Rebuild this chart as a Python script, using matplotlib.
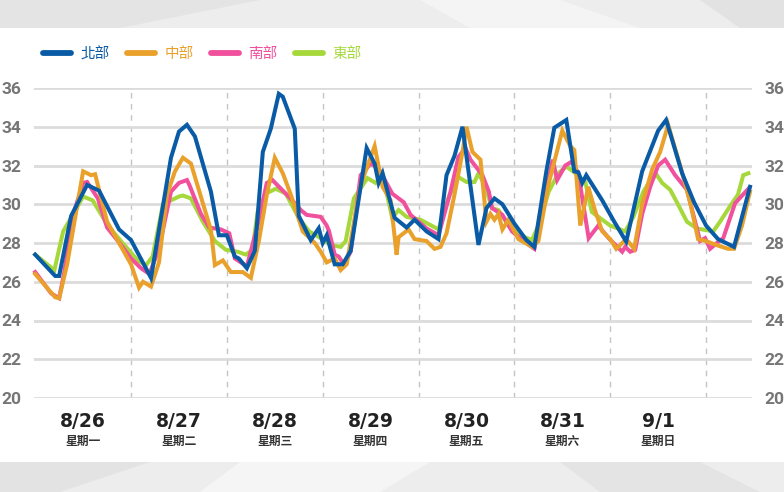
import matplotlib
matplotlib.use("Agg")
import matplotlib.pyplot as plt
from matplotlib.patches import Rectangle, Polygon

# ---------------- data (hours since 8/26 00:00, temperature °C) ----------------
north_h = [0, 5, 6, 9, 13, 16, 21, 24, 29, 34, 36, 38, 40, 44, 46, 48, 50, 51, 53, 55,
           57, 59, 61, 62, 65, 66, 69, 71, 72, 73, 75, 77, 79, 83, 85, 86, 87, 90, 93, 95,
           98, 101, 103, 105, 107, 111, 113, 115, 117, 120, 123, 125, 128, 130, 133, 135,
           136, 137, 138, 142, 145, 148, 152, 156, 158, 162, 165, 168, 171, 175, 179]
north_v = [27.4, 26.3, 26.3, 29.4, 31.0, 30.7, 28.7, 28.15, 26.2, 32.4, 33.75, 34.1, 33.5,
           30.65, 28.4, 28.4, 27.3, 27.2, 26.7, 27.6, 32.7, 33.9, 35.7, 35.55, 33.9, 29.4,
           28.15, 28.76, 28.0, 28.4, 26.9, 26.9, 27.6, 32.9, 32.1, 31.1, 31.6, 29.3, 28.8,
           29.2, 28.6, 28.2, 31.5, 32.5, 34.0, 27.9, 29.8, 30.3, 30.0, 29.0, 28.15, 27.8,
           31.7, 33.95, 34.35, 31.7, 31.65, 31.1, 31.5, 30.2, 29.1, 28.07, 31.7, 33.8,
           34.35, 31.6, 30.1, 28.9, 28.2, 27.8, 30.9]

central_h = [0, 5, 6, 8, 12, 14, 15, 18, 24, 26, 27, 29, 31, 33, 35, 37, 39, 44, 45, 47,
             49, 52, 54, 56, 58, 60, 62, 64, 67, 70, 71.5, 73, 75, 76.5, 78, 79, 81.5, 85,
             87, 89, 90.5, 91, 93.5, 95, 98, 100, 101.5, 103, 105, 107, 108, 109.5, 111.5,
             113, 114, 115, 116, 117, 118.5, 121, 124.5, 126, 128.5, 132, 134, 135, 136.5,
             138.5, 140, 142, 144, 145.5, 148, 150, 152, 154.5, 156.5, 158.5, 161.5, 164,
             166, 168, 170.5, 173.5, 175, 177, 179]
central_v = [26.4, 25.2, 25.15, 26.9, 31.7, 31.5, 31.55, 29.1, 26.9, 25.7, 26.0, 25.75,
             27.0, 30.5, 31.7, 32.4, 32.1, 28.67, 26.86, 27.1, 26.5, 26.5, 26.2, 28.1, 30.5,
             32.4, 31.6, 30.5, 28.6, 28.0, 27.55, 27.0, 27.2, 26.6, 26.9, 28.1, 31.0, 33.0,
             30.9, 30.2, 27.4, 28.3, 28.7, 28.2, 28.1, 27.7, 27.8, 28.5, 30.5, 32.7, 34.0,
             32.7, 32.3, 29.1, 29.5, 29.2, 29.5, 28.7, 29.2, 28.2, 27.8, 28.1, 31.0, 33.8,
             33.0, 32.8, 28.9, 30.9, 29.8, 28.6, 28.2, 27.7, 28.2, 27.7, 30.0, 31.8, 32.7,
             34.1, 32.0, 30.1, 28.2, 28.1, 27.9, 27.7, 27.7, 28.9, 30.65]

south_h = [0, 4, 6, 7.3, 9.4, 12, 13, 15.7, 18, 21.5, 24, 26.5, 28.6, 31, 34, 36, 38, 38.6,
           41.5, 43.6, 46.5, 48.6, 50, 53, 55.7, 58, 59.4, 64.4, 66.5, 68, 71.5, 73, 73.6,
           75, 76, 77.3, 79, 81.5, 84, 86, 89.4, 92.3, 94, 98, 101, 104, 106, 107.75, 109,
           112, 113.6, 114.4, 117, 119.4, 122.3, 125, 127.75, 129.6, 130.7, 132.75, 134.4,
           136, 138.6, 141, 143.6, 147, 147.75, 149, 150.25, 152, 154, 156, 157.75, 160.25,
           163.2, 166.5, 167.75, 169, 170.7, 172.3, 175.25, 178.6]
south_v = [26.5, 25.4, 25.15, 26.5, 29.4, 31.1, 31.15, 30.3, 28.8, 27.9, 27.2, 26.7, 26.4,
           27.7, 30.65, 31.1, 31.25, 31.0, 29.5, 28.8, 28.7, 28.5, 27.2, 26.8, 28.9, 31.1,
           31.25, 30.2, 29.7, 29.45, 29.35, 28.9, 28.6, 27.4, 27.3, 26.9, 27.55, 31.5, 32.1,
           31.85, 30.55, 30.1, 29.45, 28.75, 28.4, 30.65, 32.45, 32.9, 32.3, 31.5, 30.65,
           29.8, 29.45, 28.6, 28.1, 27.7, 30.5, 32.3, 31.25, 32.0, 32.2, 31.6, 28.25, 28.9,
           28.25, 27.55, 27.8, 27.55, 27.65, 29.5, 30.9, 32.0, 32.3, 31.5, 30.75, 28.1,
           28.25, 27.7, 28.0, 28.25, 30.05, 30.8]

east_h = [0, 4.8, 7, 9, 12, 14.4, 18.2, 22.3, 25.7, 27.75, 29.4, 32, 34, 36, 37, 39, 42,
          45, 47.75, 50.7, 52.75, 54.4, 55.7, 57.75, 60.25, 62.75, 66, 68.6, 71.5, 74,
          76.5, 77.75, 79.8, 83.2, 85.25, 87, 89.4, 91, 93, 96.5, 101, 103.6, 106, 108,
          110, 111, 112.75, 114.4, 116, 118.5, 122, 124.4, 126, 128.6, 131, 133, 135,
          137.75, 139.4, 142, 144, 147.75, 149.8, 152.3, 154.4, 155.7, 157, 159, 160.7,
          163.2, 165.7, 169.8, 171.5, 174, 176, 177.3, 178.6]
east_v = [27.4, 26.6, 28.6, 29.3, 30.4, 30.2, 28.9, 27.9, 27.1, 26.85, 27.3, 30.0, 30.2,
          30.4, 30.45, 30.3, 29.1, 28.1, 27.65, 27.55, 27.4, 27.65, 29.6, 30.55, 30.8,
          30.55, 29.3, 28.6, 28.25, 27.9, 27.8, 28.1, 30.3, 31.35, 31.1, 31.5, 29.3, 29.7,
          29.35, 29.2, 28.7, 30.4, 31.4, 31.15, 31.15, 31.6, 30.9, 29.8, 29.7, 28.9, 28.35,
          28.15, 28.9, 30.65, 31.6, 31.95, 31.65, 31.15, 29.6, 29.2, 28.9, 28.6, 29.35,
          30.65, 31.35, 31.5, 31.1, 30.75, 30.1, 29.1, 28.75, 28.6, 29.1, 29.9, 30.5, 31.5,
          31.6]

series_names = ["北部", "中部", "南部", "東部"]
series_colors = ["#0a5ba6", "#e9a12c", "#f0509c", "#a6d83c"]

day_labels = ["8/26", "8/27", "8/28", "8/29", "8/30", "8/31", "9/1"]
weekday_labels = ["星期一", "星期二", "星期三", "星期四", "星期五", "星期六", "星期日"]
y_ticks = [20, 22, 24, 26, 28, 30, 32, 34, 36]

# ---------------- figure ----------------
plt.rcParams["font.family"] = ["Noto Sans CJK TC", "DejaVu Sans"]
W, H = 784, 492
fig = plt.figure(figsize=(W / 100, H / 100), dpi=100)
fig.patch.set_facecolor("#ededed")

# decorative background bands
bg = fig.add_axes([0, 0, 1, 1], zorder=-10)
bg.set_xlim(0, W)
bg.set_ylim(H, 0)
bg.axis("off")
bg.add_patch(Polygon([[0, 0], [260, 0], [120, 28], [0, 28]], closed=True, color="#e4e4e4", lw=0))
bg.add_patch(Polygon([[420, 0], [560, 0], [640, 28], [470, 28]], closed=True, color="#f4f4f4", lw=0))
bg.add_patch(Polygon([[700, 0], [784, 0], [784, 28], [740, 28]], closed=True, color="#e2e2e2", lw=0))
bg.add_patch(Polygon([[0, 462], [150, 462], [60, 492], [0, 492]], closed=True, color="#e3e3e3", lw=0))
bg.add_patch(Polygon([[240, 462], [430, 462], [380, 492], [200, 492]], closed=True, color="#f5f5f5", lw=0))
bg.add_patch(Polygon([[560, 462], [700, 462], [760, 492], [600, 492]], closed=True, color="#e4e4e4", lw=0))
bg.add_patch(Rectangle((0, 28), W, 434, color="white", lw=0))

# main axes
x0, x1, ytop, ybot = 34, 752, 88, 398
ax = fig.add_axes([x0 / W, 1 - ybot / H, (x1 - x0) / W, (ybot - ytop) / H])
ax.set_facecolor("none")
ax.set_xlim(-0.3, 179.5)
ax.set_ylim(20, 36)
for s in ax.spines.values():
    s.set_visible(False)

ax.set_yticks(y_ticks)
ax.yaxis.grid(True, color="#dcdcdc", lw=2)
ax.set_axisbelow(True)
ax.tick_params(axis="y", length=0, pad=9, labelsize=12.5, labelcolor="#767676",
               labelleft=True, labelright=True)
for lab in ax.get_yticklabels():
    lab.set_fontweight("bold")
    lab.set_family(["Roboto", "DejaVu Sans"])
ax.set_xticks([])

for d in range(1, 8):
    ax.axvline(24 * d, color="#c4c4c4", lw=1, ls=(0, (4, 4)), zorder=0)

series = [(north_h, north_v), (central_h, central_v), (south_h, south_v), (east_h, east_v)]
order = [3, 2, 1, 0]
lines = {}
for i in order:
    hh, vv = series[i]
    ln, = ax.plot(hh, vv, color=series_colors[i], lw=2.9, solid_joinstyle="miter",
                  label=series_names[i], zorder=3 + (3 - i), clip_on=False)
    lines[i] = ln

handles = [lines[i] for i in range(4)]
leg = ax.legend(handles, series_names, loc="center left",
                bbox_to_anchor=(9 / (x1 - x0), (ytop - 54) / (ybot - ytop) + 1),
                ncol=4, frameon=False, fontsize=10.5, handlelength=1.95, handletextpad=0.6,
                columnspacing=1.2, labelcolor="linecolor", borderaxespad=0, borderpad=0)
for lh in leg.get_lines():
    lh.set_linewidth(4.2)
    lh.set_solid_capstyle("round")

# x labels
for k, (dl, wl) in enumerate(zip(day_labels, weekday_labels)):
    xc = 24 * k + 12
    ax.annotate(dl, xy=(xc, 20), xycoords="data", xytext=(0, -17), textcoords="offset points",
                ha="center", va="center", fontsize=13.5, fontweight="bold", color="#222222",
                family=["DejaVu Sans"], annotation_clip=False)
    ax.annotate(wl, xy=(xc, 20), xycoords="data", xytext=(0, -31), textcoords="offset points",
                ha="center", va="center", fontsize=8.5, fontweight="bold", color="#333333",
                annotation_clip=False)

fig.savefig("out.png", dpi=100, facecolor=fig.get_facecolor())
